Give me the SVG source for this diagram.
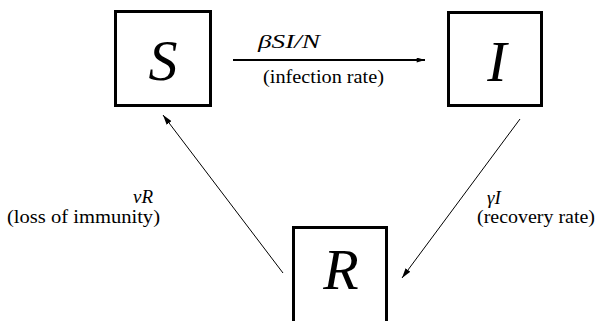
<svg xmlns="http://www.w3.org/2000/svg" width="597" height="321" viewBox="0 0 597 321">
<style>
.box{fill:#fff;stroke:#000;stroke-width:3}
.big{font-family:'Liberation Serif','Times New Roman',serif;font-style:italic;font-size:58px;text-anchor:middle}
.lbl{font-family:'Liberation Serif','Times New Roman',serif;font-size:19px}
.math{font-family:'Liberation Serif','Times New Roman',serif;font-style:italic;font-size:19px}
.thin{stroke:#000;stroke-width:1;fill:none}
</style>
<defs>
<marker id="ah" viewBox="0 0 10 6" refX="10" refY="3" markerWidth="10" markerHeight="6" markerUnits="userSpaceOnUse" orient="auto">
<path d="M0,0 L10,3 L0,6 z" fill="#000"/>
</marker>
<marker id="ah2" viewBox="0 0 10 6" refX="10" refY="3" markerWidth="9" markerHeight="5" markerUnits="userSpaceOnUse" orient="auto">
<path d="M0,0 L10,3 L0,6 z" fill="#000"/>
</marker>
</defs>
<rect width="597" height="321" fill="#fff"/>
<g id="node-S">
<rect class="box" x="115.5" y="11.5" width="95" height="94"/>
<text class="big" x="163" y="80">S</text>
</g>
<g id="node-I">
<rect class="box" x="448.5" y="12.5" width="93" height="93"/>
<text class="big" x="497" y="81">I</text>
</g>
<g id="node-R">
<rect class="box" x="293.5" y="227.5" width="93" height="100"/>
<text class="big" x="341" y="289">R</text>
</g>
<g id="connectors">
<line x1="233" y1="60" x2="425" y2="60" stroke="#000" stroke-width="2.2" marker-end="url(#ah2)"/>
<line class="thin" x1="520" y1="119" x2="402" y2="278" marker-end="url(#ah)"/>
<line class="thin" x1="283" y1="273" x2="163" y2="115" marker-end="url(#ah)"/>
</g>
<g id="labels">
<text class="math" x="258" y="48" textLength="62" lengthAdjust="spacingAndGlyphs">βSI/N</text>
<text class="lbl" x="263" y="83" textLength="121" lengthAdjust="spacingAndGlyphs">(infection rate)</text>
<text class="math" x="153" y="203" text-anchor="end">νR</text>
<text class="lbl" x="7" y="223" textLength="153" lengthAdjust="spacingAndGlyphs">(loss of immunity)</text>
<text class="math" x="487" y="204">γI</text>
<text class="lbl" x="477" y="223" textLength="118" lengthAdjust="spacingAndGlyphs">(recovery rate)</text>
</g>
</svg>
